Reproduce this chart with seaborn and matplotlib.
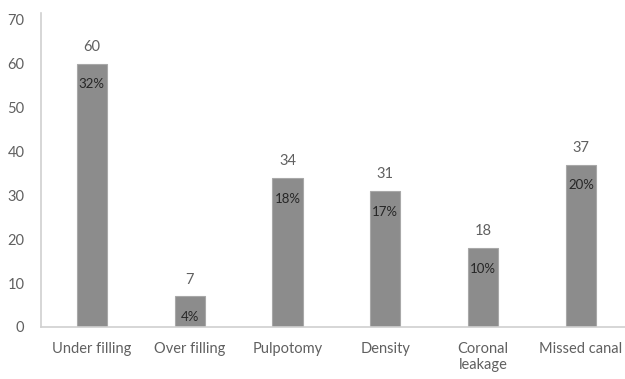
import matplotlib
matplotlib.use("Agg")
import matplotlib.pyplot as plt
import seaborn as sns
import pandas as pd

categories = ["Under filling", "Over filling", "Pulpotomy", "Density", "Coronal\nleakage", "Missed canal"]
counts = [60, 7, 34, 31, 18, 37]
percents = ["32%", "4%", "18%", "17%", "10%", "20%"]
y_ticks = [0, 10, 20, 30, 40, 50, 60, 70]

sns.set_theme(style="white")
plt.rcParams["font.family"] = ["Lato", "DejaVu Sans"]

df = pd.DataFrame({"category": categories, "count": counts})

fig = plt.figure(figsize=(6.25, 3.79), dpi=100)
ax = fig.add_axes([41 / 625, 52 / 379, 584 / 625, 314 / 379])

sns.barplot(data=df, x="category", y="count", color="#8c8c8c", width=0.31,
            edgecolor="#a8a8a8", linewidth=0.8, saturation=1, ax=ax)

ax.set_xlim(-0.52, 5.45)
ax.set_ylim(0, 71.5)
ax.set_yticks(y_ticks)
ax.set_xlabel("")
ax.set_ylabel("")

for s in ["top", "right"]:
    ax.spines[s].set_visible(False)
for s in ["left", "bottom"]:
    ax.spines[s].set_color("#d0d0d0")
    ax.spines[s].set_linewidth(1.2)

ax.tick_params(axis="y", length=0, pad=12, labelsize=10.5, labelcolor="#606060")
ax.tick_params(axis="x", length=0, pad=11, labelsize=10.5, labelcolor="#606060")

for i, (v, p) in enumerate(zip(counts, percents)):
    ax.annotate(str(v), (i, v), xytext=(0, 7), textcoords="offset points",
                ha="center", va="bottom", fontsize=10.5, color="#606060")
    ax.annotate(p, (i, v), xytext=(0, -15), textcoords="offset points",
                ha="center", va="center", fontsize=9.5, color="#262626")

fig.savefig("out.png", dpi=100, facecolor="white")
